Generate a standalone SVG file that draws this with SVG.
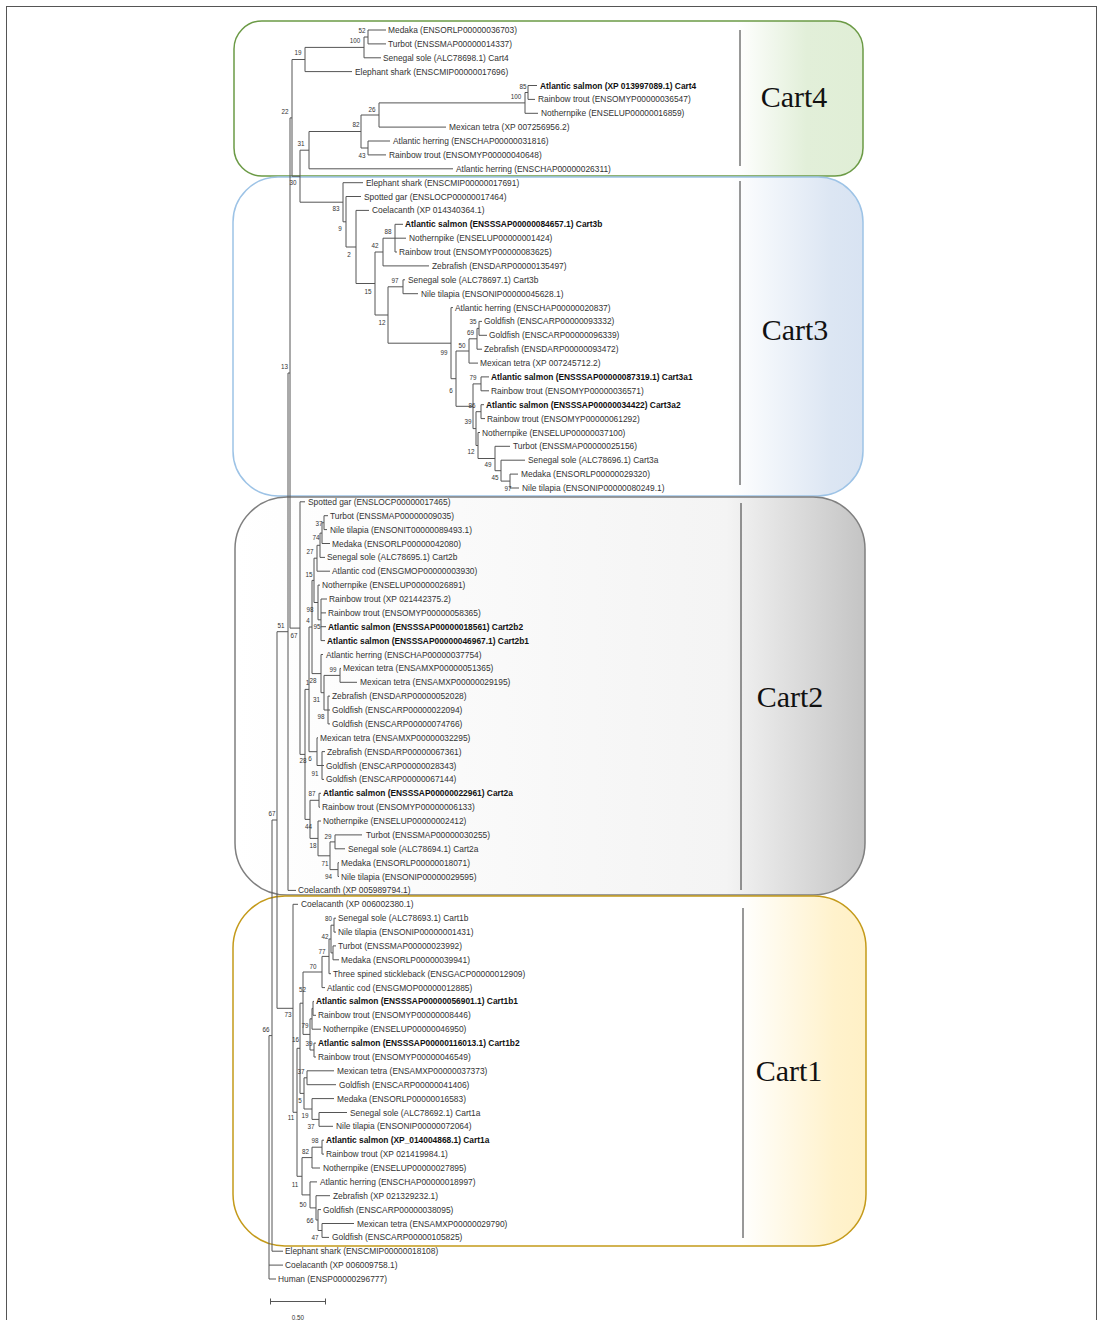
<svg xmlns="http://www.w3.org/2000/svg" width="1099" height="1320" viewBox="0 0 1099 1320">
  <defs>
    <linearGradient id="fill4" x1="0" y1="0" x2="1" y2="0">
      <stop offset="0" stop-color="#ffffff"/><stop offset="0.80" stop-color="#ffffff"/>
      <stop offset="0.91" stop-color="#e2efd9"/><stop offset="1" stop-color="#e0eed6"/>
    </linearGradient>
    <linearGradient id="fill3" x1="0" y1="0" x2="1" y2="0">
      <stop offset="0" stop-color="#ffffff"/><stop offset="0.79" stop-color="#ffffff"/>
      <stop offset="0.95" stop-color="#dce6f3"/><stop offset="1" stop-color="#d8e3f2"/>
    </linearGradient>
    <linearGradient id="fill2" x1="0" y1="0" x2="1" y2="0">
      <stop offset="0" stop-color="#ffffff"/><stop offset="0.78" stop-color="#f4f4f4"/>
      <stop offset="1" stop-color="#c4c4c4"/>
    </linearGradient>
    <linearGradient id="fill1" x1="0" y1="0" x2="1" y2="0">
      <stop offset="0" stop-color="#ffffff"/><stop offset="0.80" stop-color="#ffffff"/>
      <stop offset="0.95" stop-color="#fff2cc"/><stop offset="1" stop-color="#fff0c6"/>
    </linearGradient>
  </defs>
  <style>
    .leaf { font-family: "Liberation Sans", Arial, sans-serif; font-size: 8.4px; fill: #333; }
    .b { font-weight: bold; fill: #111; }
    .bs { font-family: "Liberation Sans", Arial, sans-serif; font-size: 6.3px; fill: #333; text-anchor: middle; }
    .clade { font-family: "Liberation Serif", "Times New Roman", serif; font-size: 30px; fill: #111; text-anchor: middle; }
    .br { fill: none; stroke: #555; stroke-width: 1; }
    .div { stroke: #333; stroke-width: 1; }
  </style>

  <rect width="1099" height="1320" fill="#ffffff"/>
  <rect x="6.5" y="6.5" width="1090" height="1330" fill="none" stroke="#555" stroke-width="1"/>

  <!-- clade boxes -->
  <g id="box-cart4">
    <rect x="234" y="21" width="629" height="155" rx="28" fill="url(#fill4)" stroke="#6b9a45" stroke-width="1.5"/>
    <line class="div" x1="740" y1="30" x2="740" y2="166"/>
    <text class="clade" x="794" y="107">Cart4</text>
  </g>
  <g id="box-cart3">
    <rect x="233" y="177" width="630" height="319" rx="45" fill="url(#fill3)" stroke="#9dc3e6" stroke-width="1.5"/>
    <line class="div" x1="740" y1="181" x2="740" y2="485"/>
    <text class="clade" x="795" y="340">Cart3</text>
  </g>
  <g id="box-cart2">
    <rect x="235" y="497" width="630" height="398" rx="52" fill="url(#fill2)" stroke="#7f7f7f" stroke-width="1.5"/>
    <line class="div" x1="741" y1="503" x2="741" y2="890" stroke="#666"/>
    <text class="clade" x="790" y="707">Cart2</text>
  </g>
  <g id="box-cart1">
    <rect x="233" y="896" width="633" height="350" rx="52" fill="url(#fill1)" stroke="#c49a1a" stroke-width="1.5"/>
    <line class="div" x1="743" y1="908" x2="743" y2="1238"/>
    <text class="clade" x="789" y="1081">Cart1</text>
  </g>

  <!-- tree branches -->
  <g id="connectors" class="br">
    <!-- Cart4 -->
    <path d="M368 30V43.9M368 30H386M368 43.9H386"/>
    <path d="M364 37V57.8M364 37H368M364 57.8H381"/>
    <path d="M305 47.4V71.6M305 47.4H364M305 71.6H352"/>
    <path d="M528 85.5V99.4M528 85.5H537M528 99.4H535"/>
    <path d="M525 92.5V113.3M525 92.5H528M525 113.3H538"/>
    <path d="M379 102.9V127.1M379 102.9H525M379 127.1H446"/>
    <path d="M368 141V154.9M368 141H390M368 154.9H386"/>
    <path d="M361 115V148M361 115H379M361 148H368"/>
    <path d="M309 131.5V168.8M309 131.5H361M309 168.8H453"/>
    <path d="M292 59.5V176.2M292 59.5H305M292 176.2H300"/>
    <path d="M300 150.2V202.2M300 150.2H309M300 202.2H343"/>
    <!-- Cart3 -->
    <path d="M343 182.7V221.8M343 182.7H363M343 221.8H346"/>
    <path d="M346 196.5V247M346 196.5H361M346 247H356"/>
    <path d="M356 210.4V283.5M356 210.4H369M356 283.5H375"/>
    <path d="M375 252V315M375 252H383M375 315H388"/>
    <path d="M383 238.2V265.9M383 238.2H395M383 265.9H429"/>
    <path d="M395 224.3V252M395 224.3H403M395 238.2H406M395 252H397"/>
    <path d="M388 286.8V343.2M388 286.8H403M388 343.2H451"/>
    <path d="M403 279.8V293.7M403 279.8H405M403 293.7H418"/>
    <path d="M451 307.6V378.7M451 307.6H453M451 378.7H456"/>
    <path d="M456 351V406.3M456 351H469M456 406.3H473"/>
    <path d="M469 338.8V363.1M469 338.8H477M469 363.1H478"/>
    <path d="M477 328.4V349.2M477 328.4H479M477 349.2H482"/>
    <path d="M479 321.4V335.3M479 321.4H482M479 335.3H487"/>
    <path d="M473 383.9V428.6M473 383.9H481M473 428.6H476"/>
    <path d="M481 376.9V390.8M481 376.9H489M481 390.8H489"/>
    <path d="M476 411.7V445.5M476 411.7H481M476 445.5H478"/>
    <path d="M481 404.7V418.6M481 404.7H484M481 418.6H485"/>
    <path d="M478 432.5V458.5M478 432.5H480M478 458.5H495"/>
    <path d="M495 446.3V470.7M495 446.3H510M495 470.7H501"/>
    <path d="M501 460.2V481.1M501 460.2H525M501 481.1H510"/>
    <path d="M510 474.1V488M510 474.1H518M510 488H519"/>
    <!-- backbone -->
    <path d="M290 117.9V628.1M290 117.9H292M290 628.1H300"/>
    <path d="M288 373V890.4M288 373H290M288 890.4H296"/>
    <path d="M277 631.7V1008.3M277 631.7H288M277 1008.3H293"/>
    <path d="M272 820V1251.2M272 820H277M272 1251.2H283"/>
    <path d="M269 1035.6V1279M269 1035.6H272M269 1265.1H283M269 1279H276"/>
    <!-- Cart2 -->
    <path d="M300 501.8V754.4M300 501.8H305M300 754.4H305"/>
    <path d="M305 689.4V819.4M305 689.4H309M305 819.4H310"/>
    <path d="M309 627V751.7M309 627H312M309 751.7H317"/>
    <path d="M312 580.4V673.6M312 580.4H314M312 673.6H321"/>
    <path d="M314 558.2V602.5M314 558.2H317M314 602.5H318"/>
    <path d="M317 545.3V571.2M317 545.3H320M317 571.2H330"/>
    <path d="M320 533.1V557.4M320 533.1H322M320 557.4H325"/>
    <path d="M322 522.7V543.5M322 522.7H324M322 543.5H330"/>
    <path d="M324 515.7V529.6M324 515.7H328M324 529.6H327"/>
    <path d="M318 585.1V619.8M318 585.1H320M318 619.8H321"/>
    <path d="M321 599V640.6M321 599H327M321 612.9H326M321 626.7H326M321 640.6H325"/>
    <path d="M321 654.5V692.7M321 654.5H323M321 692.7H324"/>
    <path d="M324 675.4V710M324 675.4H340M324 710H328"/>
    <path d="M340 668.4V682.3M340 668.4H341M340 682.3H357"/>
    <path d="M328 696.1V723.9M328 696.1H330M328 710H330M328 723.9H330"/>
    <path d="M317 737.8V765.5M317 737.8H318M317 765.5H322"/>
    <path d="M322 751.6V779.4M322 751.6H325M322 765.5H324M322 779.4H324"/>
    <path d="M310 800.3V838.4M310 800.3H319M310 838.4H318"/>
    <path d="M319 793.3V807.2M319 793.3H321M319 807.2H320"/>
    <path d="M318 821V855.8M318 821H321M318 855.8H330"/>
    <path d="M330 841.9V869.6M330 841.9H335M330 869.6H338"/>
    <path d="M335 834.9V848.8M335 834.9H362M335 848.8H345"/>
    <path d="M338 862.7V876.5M338 862.7H339M338 876.5H339"/>
    <!-- Cart1 -->
    <path d="M293 904.3V1112.3M293 904.3H298M293 1112.3H297"/>
    <path d="M297 1048.3V1176.3M297 1048.3H300M297 1176.3H302"/>
    <path d="M300 1003.2V1093.4M300 1003.2H303M300 1093.4H304"/>
    <path d="M303 972V1034.4M303 972H322M303 1034.4H310"/>
    <path d="M322 956.4V987.6M322 956.4H329M322 987.6H325"/>
    <path d="M329 939V973.7M329 939H331M329 973.7H331"/>
    <path d="M331 925.2V952.9M331 925.2H334M331 952.9H333"/>
    <path d="M334 918.2V932.1M334 918.2H336M334 932.1H336"/>
    <path d="M333 945.9V959.8M333 945.9H336M333 959.8H339"/>
    <path d="M310 1018.8V1050M310 1018.8H312M310 1050H314"/>
    <path d="M312 1008.4V1029.2M312 1008.4H313M312 1029.2H321"/>
    <path d="M313 1001.4V1015.3M313 1001.4H314M313 1015.3H316"/>
    <path d="M314 1043.1V1057M314 1043.1H316M314 1057H316"/>
    <path d="M304 1077.8V1109M304 1077.8H307M304 1109H312"/>
    <path d="M307 1070.8V1084.7M307 1070.8H334M307 1084.7H336"/>
    <path d="M312 1098.6V1119.4M312 1098.6H334M312 1119.4H319"/>
    <path d="M319 1112.5V1126.3M319 1112.5H347M319 1126.3H333"/>
    <path d="M302 1157.6V1194.9M302 1157.6H312M302 1194.9H310"/>
    <path d="M312 1147.2V1168M312 1147.2H322M312 1168H320"/>
    <path d="M322 1140.2V1154.1M322 1140.2H324M322 1154.1H324"/>
    <path d="M310 1181.9V1207.9M310 1181.9H317M310 1207.9H316"/>
    <path d="M316 1195.7V1220M316 1195.7H330M316 1220H318"/>
    <path d="M318 1209.6V1230.5M318 1209.6H321M318 1230.5H322"/>
    <path d="M322 1223.5V1237.4M322 1223.5H354M322 1237.4H329"/>
  </g>

  <!-- bootstrap support values -->
  <g id="support">
    <text class="bs" x="362" y="32.5">52</text>
    <text class="bs" x="355" y="43">100</text>
    <text class="bs" x="298" y="55">19</text>
    <text class="bs" x="285" y="113.5">22</text>
    <text class="bs" x="523" y="88.5">85</text>
    <text class="bs" x="516" y="98.5">100</text>
    <text class="bs" x="372" y="111.5">26</text>
    <text class="bs" x="356" y="126.5">82</text>
    <text class="bs" x="301" y="145.5">31</text>
    <text class="bs" x="362" y="157.5">43</text>
    <text class="bs" x="293" y="184.5">30</text>
    <text class="bs" x="336" y="210.5">83</text>
    <text class="bs" x="340" y="230.5">9</text>
    <text class="bs" x="388" y="234">88</text>
    <text class="bs" x="375" y="248">42</text>
    <text class="bs" x="349" y="256.5">2</text>
    <text class="bs" x="395" y="282.5">97</text>
    <text class="bs" x="368" y="293.5">15</text>
    <text class="bs" x="382" y="325">12</text>
    <text class="bs" x="444" y="355">99</text>
    <text class="bs" x="473" y="324">35</text>
    <text class="bs" x="470.5" y="334.5">69</text>
    <text class="bs" x="462" y="347.5">50</text>
    <text class="bs" x="451" y="392.5">6</text>
    <text class="bs" x="473" y="379.5">79</text>
    <text class="bs" x="472" y="407.5">86</text>
    <text class="bs" x="468" y="424">39</text>
    <text class="bs" x="471" y="454">12</text>
    <text class="bs" x="488" y="466.5">49</text>
    <text class="bs" x="495" y="480">45</text>
    <text class="bs" x="508" y="490.5">97</text>
    <text class="bs" x="284.5" y="368.5">13</text>
    <text class="bs" x="319" y="525.5">37</text>
    <text class="bs" x="316" y="539.5">74</text>
    <text class="bs" x="310" y="553.5">27</text>
    <text class="bs" x="309" y="576.5">15</text>
    <text class="bs" x="310" y="611.5">98</text>
    <text class="bs" x="308" y="623">4</text>
    <text class="bs" x="317" y="629">95</text>
    <text class="bs" x="281" y="628">51</text>
    <text class="bs" x="294" y="637.5">67</text>
    <text class="bs" x="333" y="671.5">99</text>
    <text class="bs" x="307.5" y="684.5">1</text>
    <text class="bs" x="313" y="682.5">28</text>
    <text class="bs" x="316.5" y="702">31</text>
    <text class="bs" x="321" y="719">98</text>
    <text class="bs" x="303" y="763">28</text>
    <text class="bs" x="310" y="760.5">6</text>
    <text class="bs" x="315" y="775.5">91</text>
    <text class="bs" x="312" y="796">87</text>
    <text class="bs" x="308.5" y="829">44</text>
    <text class="bs" x="328" y="839">29</text>
    <text class="bs" x="313" y="848">18</text>
    <text class="bs" x="325" y="865.5">71</text>
    <text class="bs" x="328.5" y="879">94</text>
    <text class="bs" x="272" y="815.5">67</text>
    <text class="bs" x="328.5" y="921">80</text>
    <text class="bs" x="325" y="939">42</text>
    <text class="bs" x="322" y="954">77</text>
    <text class="bs" x="313" y="968.5">70</text>
    <text class="bs" x="302.5" y="991.5">52</text>
    <text class="bs" x="288" y="1016.5">73</text>
    <text class="bs" x="305" y="1028">79</text>
    <text class="bs" x="266" y="1031.5">66</text>
    <text class="bs" x="295.5" y="1041.5">16</text>
    <text class="bs" x="309" y="1045.5">39</text>
    <text class="bs" x="301" y="1074">37</text>
    <text class="bs" x="300" y="1103">5</text>
    <text class="bs" x="305" y="1118">19</text>
    <text class="bs" x="291" y="1120">11</text>
    <text class="bs" x="311" y="1129">37</text>
    <text class="bs" x="315" y="1143">98</text>
    <text class="bs" x="305.5" y="1154">82</text>
    <text class="bs" x="295" y="1186.5">11</text>
    <text class="bs" x="303" y="1206.5">50</text>
    <text class="bs" x="310" y="1223">66</text>
    <text class="bs" x="315" y="1239.5">47</text>
  </g>

  <!-- taxa: Cart4 -->
  <g id="cart4-taxa">
    <g id="t01"><text class="leaf" x="388" y="33">Medaka (ENSORLP00000036703)</text></g>
    <g id="t02"><text class="leaf" x="388" y="46.9">Turbot (ENSSMAP00000014337)</text></g>
    <g id="t03"><text class="leaf" x="383" y="60.8">Senegal sole (ALC78698.1) Cart4</text></g>
    <g id="t04"><text class="leaf" x="355" y="74.6">Elephant shark (ENSCMIP00000017696)</text></g>
    <g id="t05"><text class="leaf b" x="540" y="88.5">Atlantic salmon (XP 013997089.1) Cart4</text></g>
    <g id="t06"><text class="leaf" x="538" y="102.4">Rainbow trout (ENSOMYP00000036547)</text></g>
    <g id="t07"><text class="leaf" x="541" y="116.3">Nothernpike (ENSELUP00000016859)</text></g>
    <g id="t08"><text class="leaf" x="449" y="130.1">Mexican tetra (XP 007256956.2)</text></g>
    <g id="t09"><text class="leaf" x="393" y="144">Atlantic herring (ENSCHAP00000031816)</text></g>
    <g id="t10"><text class="leaf" x="389" y="157.9">Rainbow trout (ENSOMYP00000040648)</text></g>
    <g id="t11"><text class="leaf" x="456" y="171.8">Atlantic herring (ENSCHAP00000026311)</text></g>
  </g>

  <!-- taxa: Cart3 -->
  <g id="cart3-taxa">
    <g id="t12"><text class="leaf" x="366" y="185.7">Elephant shark (ENSCMIP00000017691)</text></g>
    <g id="t13"><text class="leaf" x="364" y="199.5">Spotted gar (ENSLOCP00000017464)</text></g>
    <g id="t14"><text class="leaf" x="372" y="213.4">Coelacanth (XP 014340364.1)</text></g>
    <g id="t15"><text class="leaf b" x="405" y="227.3">Atlantic salmon (ENSSSAP00000084657.1) Cart3b</text></g>
    <g id="t16"><text class="leaf" x="409" y="241.2">Nothernpike (ENSELUP00000001424)</text></g>
    <g id="t17"><text class="leaf" x="399" y="255">Rainbow trout (ENSOMYP00000083625)</text></g>
    <g id="t18"><text class="leaf" x="432" y="268.9">Zebrafish (ENSDARP00000135497)</text></g>
    <g id="t19"><text class="leaf" x="408" y="282.8">Senegal sole (ALC78697.1) Cart3b</text></g>
    <g id="t20"><text class="leaf" x="421" y="296.7">Nile tilapia (ENSONIP00000045628.1)</text></g>
    <g id="t21"><text class="leaf" x="455" y="310.6">Atlantic herring (ENSCHAP00000020837)</text></g>
    <g id="t22"><text class="leaf" x="484" y="324.4">Goldfish (ENSCARP00000093332)</text></g>
    <g id="t23"><text class="leaf" x="489" y="338.3">Goldfish (ENSCARP00000096339)</text></g>
    <g id="t24"><text class="leaf" x="484" y="352.2">Zebrafish (ENSDARP00000093472)</text></g>
    <g id="t25"><text class="leaf" x="480" y="366.1">Mexican tetra (XP 007245712.2)</text></g>
    <g id="t26"><text class="leaf b" x="491" y="379.9">Atlantic salmon (ENSSSAP00000087319.1) Cart3a1</text></g>
    <g id="t27"><text class="leaf" x="491" y="393.8">Rainbow trout (ENSOMYP00000036571)</text></g>
    <g id="t28"><text class="leaf b" x="486" y="407.7">Atlantic salmon (ENSSSAP00000034422) Cart3a2</text></g>
    <g id="t29"><text class="leaf" x="487" y="421.6">Rainbow trout (ENSOMYP00000061292)</text></g>
    <g id="t30"><text class="leaf" x="482" y="435.5">Nothernpike (ENSELUP00000037100)</text></g>
    <g id="t31"><text class="leaf" x="513" y="449.3">Turbot (ENSSMAP00000025156)</text></g>
    <g id="t32"><text class="leaf" x="528" y="463.2">Senegal sole (ALC78696.1) Cart3a</text></g>
    <g id="t33"><text class="leaf" x="521" y="477.1">Medaka (ENSORLP00000029320)</text></g>
    <g id="t34"><text class="leaf" x="522" y="491">Nile tilapia (ENSONIP00000080249.1)</text></g>
  </g>

  <!-- taxa: Cart2 -->
  <g id="cart2-taxa">
    <g id="t35"><text class="leaf" x="308" y="504.8">Spotted gar (ENSLOCP00000017465)</text></g>
    <g id="t36"><text class="leaf" x="330" y="518.7">Turbot (ENSSMAP00000009035)</text></g>
    <g id="t37"><text class="leaf" x="330" y="532.6">Nile tilapia (ENSONIT00000089493.1)</text></g>
    <g id="t38"><text class="leaf" x="332" y="546.5">Medaka (ENSORLP00000042080)</text></g>
    <g id="t39"><text class="leaf" x="327" y="560.4">Senegal sole (ALC78695.1) Cart2b</text></g>
    <g id="t40"><text class="leaf" x="332" y="574.2">Atlantic cod (ENSGMOP00000003930)</text></g>
    <g id="t41"><text class="leaf" x="322" y="588.1">Nothernpike (ENSELUP00000026891)</text></g>
    <g id="t42"><text class="leaf" x="329" y="602">Rainbow trout (XP 021442375.2)</text></g>
    <g id="t43"><text class="leaf" x="328" y="615.9">Rainbow trout (ENSOMYP00000058365)</text></g>
    <g id="t44"><text class="leaf b" x="328" y="629.7">Atlantic salmon (ENSSSAP00000018561) Cart2b2</text></g>
    <g id="t45"><text class="leaf b" x="327" y="643.6">Atlantic salmon (ENSSSAP00000046967.1) Cart2b1</text></g>
    <g id="t46"><text class="leaf" x="326" y="657.5">Atlantic herring (ENSCHAP00000037754)</text></g>
    <g id="t47"><text class="leaf" x="343" y="671.4">Mexican tetra (ENSAMXP00000051365)</text></g>
    <g id="t48"><text class="leaf" x="360" y="685.3">Mexican tetra (ENSAMXP00000029195)</text></g>
    <g id="t49"><text class="leaf" x="332" y="699.1">Zebrafish (ENSDARP00000052028)</text></g>
    <g id="t50"><text class="leaf" x="332" y="713">Goldfish (ENSCARP00000022094)</text></g>
    <g id="t51"><text class="leaf" x="332" y="726.9">Goldfish (ENSCARP00000074766)</text></g>
    <g id="t52"><text class="leaf" x="320" y="740.8">Mexican tetra (ENSAMXP00000032295)</text></g>
    <g id="t53"><text class="leaf" x="327" y="754.6">Zebrafish (ENSDARP00000067361)</text></g>
    <g id="t54"><text class="leaf" x="326" y="768.5">Goldfish (ENSCARP00000028343)</text></g>
    <g id="t55"><text class="leaf" x="326" y="782.4">Goldfish (ENSCARP00000067144)</text></g>
    <g id="t56"><text class="leaf b" x="323" y="796.3">Atlantic salmon (ENSSSAP00000022961) Cart2a</text></g>
    <g id="t57"><text class="leaf" x="322" y="810.2">Rainbow trout (ENSOMYP00000006133)</text></g>
    <g id="t58"><text class="leaf" x="323" y="824">Nothernpike (ENSELUP00000002412)</text></g>
    <g id="t59"><text class="leaf" x="366" y="837.9">Turbot (ENSSMAP00000030255)</text></g>
    <g id="t60"><text class="leaf" x="348" y="851.8">Senegal sole (ALC78694.1) Cart2a</text></g>
    <g id="t61"><text class="leaf" x="341" y="865.7">Medaka (ENSORLP00000018071)</text></g>
    <g id="t62"><text class="leaf" x="341" y="879.5">Nile tilapia (ENSONIP00000029595)</text></g>
    <g id="t63"><text class="leaf" x="298" y="893.4">Coelacanth (XP 005989794.1)</text></g>
  </g>

  <!-- taxa: Cart1 -->
  <g id="cart1-taxa">
    <g id="t64"><text class="leaf" x="301" y="907.3">Coelacanth (XP 006002380.1)</text></g>
    <g id="t65"><text class="leaf" x="338" y="921.2">Senegal sole (ALC78693.1) Cart1b</text></g>
    <g id="t66"><text class="leaf" x="338" y="935.1">Nile tilapia (ENSONIP00000001431)</text></g>
    <g id="t67"><text class="leaf" x="338" y="948.9">Turbot (ENSSMAP00000023992)</text></g>
    <g id="t68"><text class="leaf" x="341" y="962.8">Medaka (ENSORLP00000039941)</text></g>
    <g id="t69"><text class="leaf" x="333" y="976.7">Three spined stickleback (ENSGACP00000012909)</text></g>
    <g id="t70"><text class="leaf" x="327" y="990.6">Atlantic cod (ENSGMOP00000012885)</text></g>
    <g id="t71"><text class="leaf b" x="316" y="1004.4">Atlantic salmon (ENSSSAP00000056901.1) Cart1b1</text></g>
    <g id="t72"><text class="leaf" x="318" y="1018.3">Rainbow trout (ENSOMYP00000008446)</text></g>
    <g id="t73"><text class="leaf" x="323" y="1032.2">Nothernpike (ENSELUP00000046950)</text></g>
    <g id="t74"><text class="leaf b" x="318" y="1046.1">Atlantic salmon (ENSSSAP00000116013.1) Cart1b2</text></g>
    <g id="t75"><text class="leaf" x="318" y="1060">Rainbow trout (ENSOMYP00000046549)</text></g>
    <g id="t76"><text class="leaf" x="337" y="1073.8">Mexican tetra (ENSAMXP00000037373)</text></g>
    <g id="t77"><text class="leaf" x="339" y="1087.7">Goldfish (ENSCARP00000041406)</text></g>
    <g id="t78"><text class="leaf" x="337" y="1101.6">Medaka (ENSORLP00000016583)</text></g>
    <g id="t79"><text class="leaf" x="350" y="1115.5">Senegal sole (ALC78692.1) Cart1a</text></g>
    <g id="t80"><text class="leaf" x="336" y="1129.3">Nile tilapia (ENSONIP00000072064)</text></g>
    <g id="t81"><text class="leaf b" x="326" y="1143.2">Atlantic salmon (XP_014004868.1) Cart1a</text></g>
    <g id="t82"><text class="leaf" x="326" y="1157.1">Rainbow trout (XP 021419984.1)</text></g>
    <g id="t83"><text class="leaf" x="323" y="1171">Nothernpike (ENSELUP00000027895)</text></g>
    <g id="t84"><text class="leaf" x="320" y="1184.9">Atlantic herring (ENSCHAP00000018997)</text></g>
    <g id="t85"><text class="leaf" x="333" y="1198.7">Zebrafish (XP 021329232.1)</text></g>
    <g id="t86"><text class="leaf" x="323" y="1212.6">Goldfish (ENSCARP00000038095)</text></g>
    <g id="t87"><text class="leaf" x="357" y="1226.5">Mexican tetra (ENSAMXP00000029790)</text></g>
    <g id="t88"><text class="leaf" x="332" y="1240.4">Goldfish (ENSCARP00000105825)</text></g>
  </g>

  <!-- taxa: outgroups -->
  <g id="outgroup-taxa">
    <g id="t89"><text class="leaf" x="285" y="1254.2">Elephant shark (ENSCMIP00000018108)</text></g>
    <g id="t90"><text class="leaf" x="285" y="1268.1">Coelacanth (XP 006009758.1)</text></g>
    <g id="t91"><text class="leaf" x="278" y="1282">Human (ENSP00000296777)</text></g>
  </g>

  <!-- scale bar -->
  <g id="scale">
    <path class="br" d="M270.5 1301.5H325.5M270.5 1298.5V1304.5M325.5 1298.5V1304.5"/>
    <text class="bs" x="298" y="1320">0.50</text>
  </g>
</svg>
